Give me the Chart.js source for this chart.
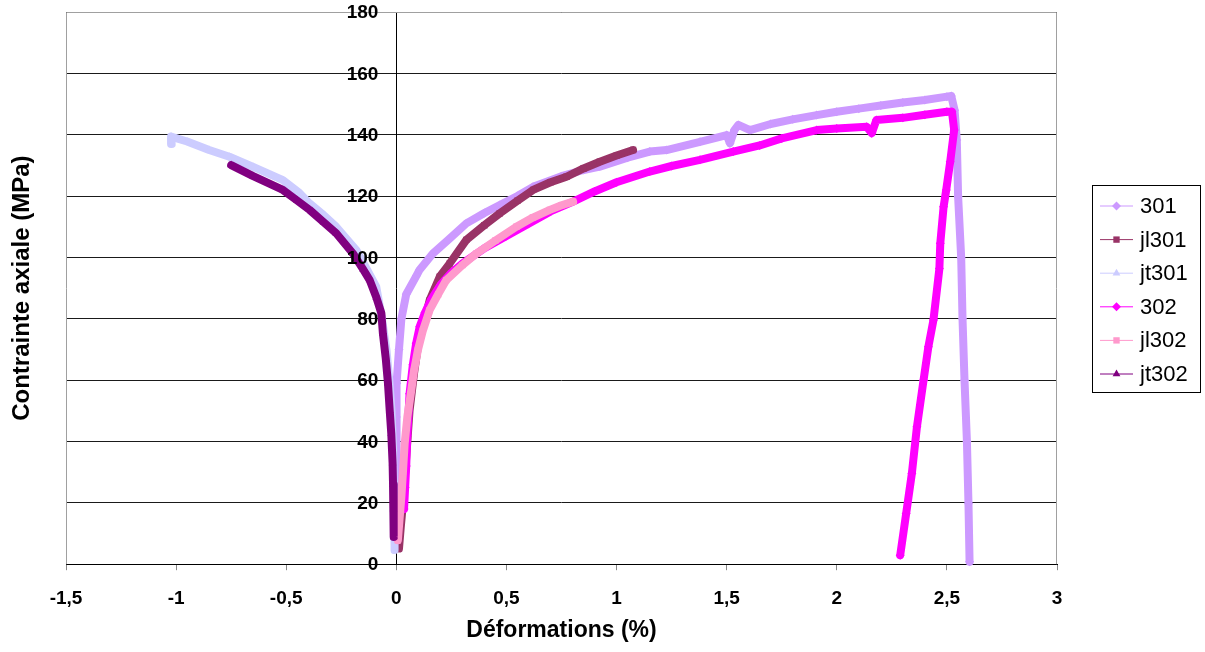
<!DOCTYPE html>
<html>
<head>
<meta charset="utf-8">
<script src="https://cdn.jsdelivr.net/npm/chart.js@4.4.0/dist/chart.umd.min.js"></script>
<style>
  html, body { margin: 0; padding: 0; background: #fff; }
  canvas { display: block; }
</style>
</head>
<body>
<canvas id="chart" width="1205" height="652"></canvas>
<script>
// Data ------------------------------------------------
const seriesNames = ["301", "jl301", "jt301", "302", "jl302", "jt302"];
const seriesColors = ["#CC99FF", "#993366", "#CCCCFF", "#FF00FF", "#FF99CC", "#800080"];
const seriesMarkers = ["rectRot", "rect", "triangle", "rectRot", "rect", "triangle"];

const xTickLabels = ["-1,5", "-1", "-0,5", "0", "0,5", "1", "1,5", "2", "2,5", "3"];
const yTickValues = [0, 20, 40, 60, 80, 100, 120, 140, 160, 180];

const x301 = [0, 0, 0.002, 0.012, 0.023, 0.045, 0.091, 0.106, 0.166, 0.24, 0.318, 0.4, 0.47, 0.55, 0.621, 0.75, 0.85, 0.924, 1.05, 1.151, 1.227, 1.379, 1.5, 1.515, 1.535, 1.553, 1.606, 1.7, 1.8, 1.909, 2.0, 2.1, 2.2, 2.3, 2.4, 2.5, 2.52, 2.535, 2.545, 2.551, 2.565, 2.571, 2.58, 2.591, 2.598, 2.603];
const y301 = [20, 48, 59, 70, 80, 88, 94, 96, 101.3, 106, 111.1, 114.5, 117.1, 120, 123, 126.5, 128.5, 129.6, 132.5, 134.5, 135, 137.7, 139.9, 137.2, 141.5, 143.2, 141.5, 143.5, 145, 146.4, 147.5, 148.5, 149.5, 150.5, 151.3, 152.4, 152.6, 148, 138.3, 119.8, 99.8, 79.9, 60, 39.9, 19.8, 0.8];

const xjl301 = [0.012, 0.02, 0.03, 0.045, 0.06, 0.08, 0.1, 0.13, 0.151, 0.197, 0.242, 0.318, 0.4, 0.47, 0.55, 0.621, 0.7, 0.773, 0.85, 0.924, 1.0, 1.075];
const yjl301 = [5.1, 12, 19.8, 35, 50, 62, 72, 80, 86, 93.7, 98, 105.7, 110.5, 114.4, 118.5, 122, 124.5, 126.3, 129, 131.2, 133.2, 135];

const xjt301 = [-1.02, -1.023, -0.95, -0.85, -0.758, -0.65, -0.515, -0.44, -0.394, -0.33, -0.273, -0.182, -0.14, -0.091, -0.065, -0.045, -0.032, -0.022, -0.015, -0.01, -0.008];
const yjt301 = [137, 139.4, 137.8, 135, 132.8, 129.5, 125.2, 121, 117.6, 113.8, 110, 102.4, 97, 90.4, 80, 70, 60, 50, 38, 20, 4.6];

const x302 = [0.035, 0.04, 0.045, 0.05, 0.06, 0.075, 0.09, 0.106, 0.13, 0.16, 0.2, 0.25, 0.3, 0.4, 0.5, 0.6, 0.7, 0.803, 0.9, 1.0, 1.151, 1.25, 1.379, 1.53, 1.65, 1.75, 1.909, 2.0, 2.136, 2.159, 2.18, 2.3, 2.4, 2.5, 2.523, 2.533, 2.515, 2.497, 2.485, 2.47, 2.466, 2.439, 2.416, 2.394, 2.364, 2.341, 2.315, 2.288];
const y302 = [18, 25, 32, 42, 55.6, 65, 72, 77.4, 82, 86.5, 91, 95, 98, 103, 107, 111, 115, 118.2, 121.5, 124.5, 128, 129.8, 131.8, 134.5, 136.5, 138.8, 141.5, 142, 142.6, 140.5, 144.8, 145.5, 146.5, 147.5, 147.5, 141.5, 131.2, 122, 116.5, 104.6, 96.4, 79.6, 70.9, 60, 44.8, 29.6, 16.5, 2.9];

const xjl302 = [0.007, 0.015, 0.023, 0.03, 0.038, 0.05, 0.068, 0.08, 0.098, 0.12, 0.151, 0.19, 0.227, 0.3, 0.364, 0.45, 0.545, 0.62, 0.697, 0.75, 0.803];
const yjl302 = [7.8, 15, 22, 30, 39.4, 48, 56.8, 63, 69.8, 76, 82.8, 88, 92.6, 97.5, 101.3, 105.5, 110, 113, 115.5, 117, 118.2];

const xjt302 = [-0.75, -0.65, -0.515, -0.45, -0.394, -0.33, -0.273, -0.197, -0.15, -0.121, -0.091, -0.068, -0.061, -0.048, -0.038, -0.03, -0.023, -0.017, -0.015, -0.013, -0.011];
const yjt302 = [130.1, 126.5, 122, 118.5, 115.5, 111.5, 107.9, 101.3, 96, 92.6, 87, 81.8, 75.2, 67, 58.9, 50, 42.6, 33, 26, 18, 8.9];

const seriesX = [x301, xjl301, xjt301, x302, xjl302, xjt302];
const seriesY = [y301, yjl301, yjt301, y302, yjl302, yjt302];

const xTitle = "Déformations (%)";
const yTitle = "Contrainte axiale (MPa)";

// Helpers ---------------------------------------------
const FONT = "'Liberation Sans', Arial, sans-serif";

function toPoints(xs, ys) {
  return xs.map((x, i) => ({ x: x, y: ys[i] }));
}

const datasets = seriesNames.map((name, i) => ({
  label: name,
  data: toPoints(seriesX[i], seriesY[i]),
  showLine: true,
  borderColor: seriesColors[i],
  backgroundColor: seriesColors[i],
  borderWidth: 8,
  borderJoinStyle: "round",
  borderCapStyle: "round",
  pointStyle: seriesMarkers[i],
  pointRadius: 4.5,
  pointBorderWidth: 0,
  order: seriesNames.length - i,
  clip: 8,
}));

// Plot frame, titles, y labels and legend -------------
const decorations = {
  id: "decorations",
  beforeDatasetsDraw(chart) {
    const { ctx, chartArea: a } = chart;
    ctx.save();
    ctx.strokeStyle = "#a0a0a0";
    ctx.lineWidth = 1;
    ctx.beginPath();
    ctx.moveTo(a.left + 0.5, a.bottom);
    ctx.lineTo(a.left + 0.5, a.top + 0.5);
    ctx.lineTo(a.right - 0.5, a.top + 0.5);
    ctx.lineTo(a.right - 0.5, a.bottom);
    ctx.stroke();
    ctx.restore();
  },
  afterDraw(chart) {
    const { ctx, chartArea: a, scales } = chart;

    // y tick labels, left of the axis line at x = 0
    ctx.save();
    ctx.fillStyle = "#000";
    ctx.font = "bold 19px " + FONT;
    ctx.textAlign = "right";
    ctx.textBaseline = "middle";
    const axisX = scales.x.getPixelForValue(0);
    yTickValues.forEach((v) => {
      ctx.fillText(String(v), axisX - 18, scales.y.getPixelForValue(v) + 1);
    });
    ctx.restore();

    // titles
    ctx.save();
    ctx.fillStyle = "#000";
    ctx.font = "bold 23px " + FONT;
    ctx.textAlign = "center";
    ctx.textBaseline = "middle";
    ctx.fillText(xTitle, (a.left + a.right) / 2, 631);
    ctx.translate(22, (a.top + a.bottom) / 2);
    ctx.rotate(-Math.PI / 2);
    ctx.font = "bold 24px " + FONT;
    ctx.fillText(yTitle, 0, 0);
    ctx.restore();

    // legend
    ctx.save();
    const bx = 1092.5, by = 185.5, bw = 108, bh = 207;
    ctx.fillStyle = "#fff";
    ctx.fillRect(bx, by, bw, bh);
    ctx.strokeStyle = "#000";
    ctx.lineWidth = 1;
    ctx.strokeRect(bx, by, bw, bh);
    ctx.font = "22px " + FONT;
    ctx.textAlign = "left";
    ctx.textBaseline = "middle";
    seriesNames.forEach((name, i) => {
      const yy = 206 + i * 33.6;
      ctx.strokeStyle = seriesColors[i];
      ctx.lineWidth = 1;
      ctx.beginPath();
      ctx.moveTo(1100, yy);
      ctx.lineTo(1133, yy);
      ctx.stroke();
      ctx.fillStyle = seriesColors[i];
      Chart.helpers.drawPoint(ctx, { pointStyle: seriesMarkers[i], radius: 4.5, borderWidth: 0, rotation: 0 }, 1116.5, yy);
      ctx.fillStyle = "#000";
      ctx.fillText(name, 1140, yy + 1);
    });
    ctx.restore();
  },
};

// Chart -----------------------------------------------
new Chart(document.getElementById("chart"), {
  type: "scatter",
  data: { datasets: datasets },
  options: {
    responsive: false,
    animation: false,
    layout: { padding: { left: 66, right: 148, top: 12, bottom: 25 } },
    plugins: { legend: { display: false }, tooltip: { enabled: false } },
    scales: {
      x: {
        type: "linear",
        min: -1.5,
        max: 3,
        afterBuildTicks(scale) {
          scale.ticks = xTickLabels.map((t, i) => ({ value: -1.5 + i * 0.5 }));
        },
        ticks: {
          color: "#000",
          font: { family: FONT, size: 19, weight: "bold" },
          padding: 17,
          maxRotation: 0,
          callback: (v, i) => xTickLabels[i],
        },
        grid: { drawOnChartArea: false, drawTicks: true, tickLength: 6, color: "#888" },
        border: { color: "#000", width: 1 },
      },
      y: {
        type: "linear",
        position: { x: 0 },
        min: 0,
        max: 180,
        afterBuildTicks(scale) {
          scale.ticks = yTickValues.map((v) => ({ value: v }));
        },
        ticks: { display: false },
        grid: { color: "#1a1a1a", lineWidth: 1, drawTicks: true, tickLength: 7 },
        border: { color: "#000", width: 1 },
      },
    },
  },
  plugins: [decorations],
});
</script>
</body>
</html>
